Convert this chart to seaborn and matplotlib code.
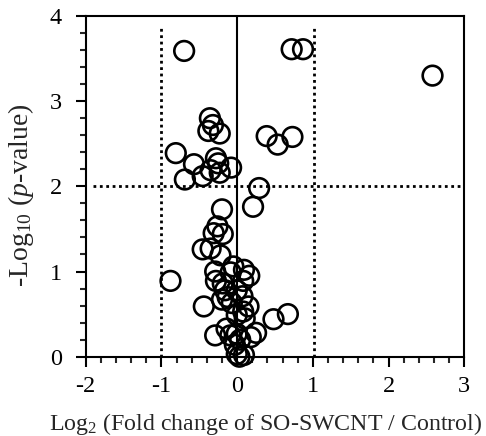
import matplotlib
matplotlib.use("Agg")
import matplotlib.pyplot as plt
import seaborn as sns
import pandas as pd
from matplotlib.ticker import MultipleLocator

log2_fc = [-0.70, 0.72, 0.87, 2.58, -0.36, -0.32, -0.38, -0.23, 0.39, 0.535, 0.73,
           -0.81, -0.57, -0.69, -0.455, -0.28, -0.25, -0.35, -0.23, -0.08, 0.29, 0.21,
           -0.20, -0.26, -0.31, -0.19, -0.455, -0.35, -0.22, -0.88, -0.29, -0.28, -0.19,
           -0.085, -0.05, 0.09, 0.16, 0.08, -0.16, -0.125, -0.20, 0.07, -0.005, -0.44,
           -0.07, 0.15, 0.08, -0.005, 0.10, 0.67, 0.48, -0.14, -0.29, -0.09, -0.005,
           0.25, 0.18, 0.04, -0.03, -0.005, 0.09, 0.03]
neglog10_p = [3.59, 3.61, 3.61, 3.30, 2.80, 2.72, 2.65, 2.62, 2.59, 2.49, 2.58,
              2.39, 2.26, 2.08, 2.12, 2.33, 2.27, 2.19, 2.16, 2.22, 1.98, 1.76,
              1.73, 1.53, 1.45, 1.44, 1.26, 1.27, 1.19, 0.89, 1.00, 0.89, 0.86,
              0.99, 1.06, 1.02, 0.95, 0.89, 0.78, 0.70, 0.67, 0.71, 0.78, 0.59,
              0.63, 0.59, 0.53, 0.49, 0.45, 0.50, 0.44, 0.33, 0.25, 0.25, 0.27,
              0.28, 0.23, 0.20, 0.14, 0.03, 0.02, 0.00]

x_ticks = [-2, -1, 0, 1, 2, 3]
y_ticks = [0, 1, 2, 3, 4]

df = pd.DataFrame({"fc": log2_fc, "p": neglog10_p})

sns.set_style("ticks")
plt.rcParams["font.family"] = ["Liberation Serif", "DejaVu Serif"]
plt.rcParams["mathtext.fontset"] = "custom"
plt.rcParams["mathtext.rm"] = "Liberation Serif"
plt.rcParams["mathtext.it"] = "Liberation Serif:italic"

fig = plt.figure(figsize=(4.86, 4.36), dpi=100)
ax = fig.add_axes([0.1763, 0.1819, 0.9554 - 0.1763, 0.9633 - 0.1819])

ax.axvline(0, color="black", lw=1.5, zorder=1)
ax.plot([-1, -1], [0, 3.9], color="black", lw=2, ls=(0, (1, 1.3)), zorder=1)
ax.plot([1.02, 1.02], [0, 3.9], color="black", lw=2, ls=(0, (1, 1.3)), zorder=1)
ax.plot([-1.9, 2.97], [2, 2], color="black", lw=2, ls=(0, (1, 1.3)), zorder=1)

sns.scatterplot(data=df, x="fc", y="p", ax=ax, s=200, marker="o",
                facecolor="none", edgecolor="black", linewidth=1.9, zorder=3,
                clip_on=False, legend=False)

ax.set_xlim(-2, 3)
ax.set_ylim(0, 4)
ax.set_xticks(x_ticks)
ax.set_yticks(y_ticks)
ax.set_xticklabels([str(t) for t in x_ticks])
ax.set_yticklabels([str(t) for t in y_ticks])
ax.xaxis.set_minor_locator(MultipleLocator(0.2))
ax.yaxis.set_minor_locator(MultipleLocator(0.2))
ax.tick_params(axis="both", which="major", direction="out", length=7, width=1.5,
               labelsize=17.5, colors="black")
ax.tick_params(axis="x", which="major", pad=7)
ax.tick_params(axis="y", which="major", pad=10)
ax.tick_params(axis="both", which="minor", direction="out", length=4, width=1.5)
ax.tick_params(top=False, right=False, which="both")
for sp in ax.spines.values():
    sp.set_linewidth(1.5)
    sp.set_color("black")

ax.set_xlabel(r"Log$_{2}$ (Fold change of SO-SWCNT / Control)", fontsize=17.2)
ax.set_ylabel(r"-Log$_{10}$ ($\mathit{p}$-value)", fontsize=20)
ax.xaxis.set_label_coords(0.476, -0.16)
ax.yaxis.set_label_coords(-0.132, 0.475)

fig.savefig("out.png", dpi=100)
